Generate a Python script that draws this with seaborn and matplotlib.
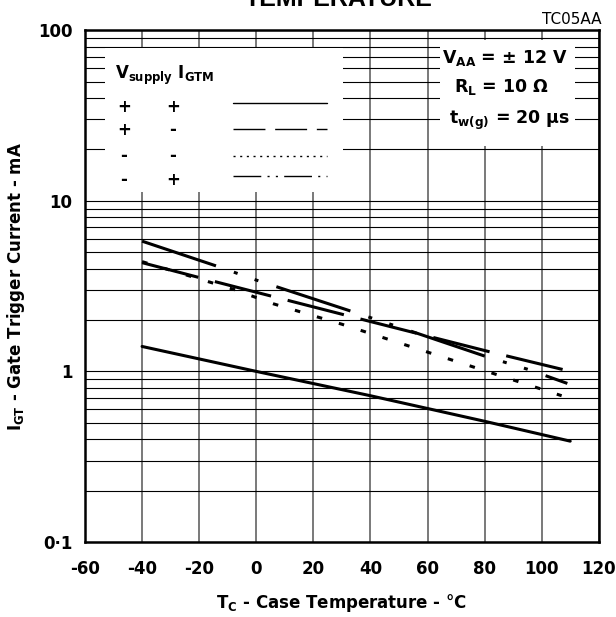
import pandas as pd
import seaborn as sns
import matplotlib.pyplot as plt
from matplotlib.patches import Rectangle
from matplotlib.lines import Line2D
from matplotlib.ticker import NullFormatter

# values
temp_pp = [-40, 0, 40, 80, 110]
igt_pp = [1.4, 1.0, 0.72, 0.51, 0.39]

temp_pm = [-40, -20, 5, 40, 82, 108]
igt_pm = [4.34, 3.55, 2.77, 1.96, 1.3, 1.02]

temp_mm = [-40, -8, 6, 30, 38, 107]
igt_mm = [4.4, 3.03, 2.49, 1.89, 1.71, 0.72]

temp_mp = [-40, -14, 0, 33, 47, 80, 95, 109]
igt_mp = [5.8, 4.15, 3.43, 2.26, 1.89, 1.23, 1.03, 0.85]

series_names = ['+ +', '+ -', '- -', '- +']
x_ticks = [-60, -40, -20, 0, 20, 40, 60, 80, 100, 120]
y_ticks = [0.1, 1, 10, 100]
y_tick_labels = ['0·1', '1', '10', '100']

df = pd.concat([
    pd.DataFrame({'temp': temp_pp, 'igt': igt_pp, 'series': '+ +'}),
    pd.DataFrame({'temp': temp_pm, 'igt': igt_pm, 'series': '+ -'}),
    pd.DataFrame({'temp': temp_mm, 'igt': igt_mm, 'series': '- -'}),
    pd.DataFrame({'temp': temp_mp, 'igt': igt_mp, 'series': '- +'}),
], ignore_index=True)

# dash patterns (in line widths)
curve_dashes = {
    '+ +': '',
    '+ -': (19, 5.6),
    '- -': (1.8, 5.7),
    '- +': (25.5, 6.2, 1.3, 5.9, 1.3, 6.2),
}
key_dashes = {
    '+ +': '-',
    '+ -': (0, (23, 7)),
    '- -': (0, (1.5, 3.3)),
    '- +': (0, (20, 4.5, 1.5, 4.5, 1.5, 4.5)),
}

sns.set_theme(style='white')
plt.rcParams['font.family'] = ['DejaVu Sans']
plt.rcParams['mathtext.fontset'] = 'dejavusans'
plt.rcParams['mathtext.default'] = 'bf'
plt.rcParams['text.color'] = 'black'
plt.rcParams['axes.labelcolor'] = 'black'
plt.rcParams['xtick.color'] = 'black'
plt.rcParams['ytick.color'] = 'black'

fig, ax = plt.subplots(figsize=(6.16, 6.17), dpi=100)
fig.subplots_adjust(left=0.138, right=0.972, bottom=0.1216, top=0.951)

sns.lineplot(data=df, x='temp', y='igt', style='series', style_order=series_names,
             dashes=curve_dashes, color='black', linewidth=2.2, estimator=None,
             sort=False, legend=False, ax=ax, zorder=4)

ax.set_yscale('log')
ax.set_xlim(-60, 120)
ax.set_ylim(0.1, 100)
ax.set_xticks(x_ticks)
ax.set_xticklabels([str(t) for t in x_ticks])
ax.set_yticks(y_ticks)
ax.set_yticklabels(y_tick_labels)
ax.yaxis.set_minor_formatter(NullFormatter())
ax.tick_params(which='both', length=0)
ax.tick_params(axis='x', pad=13, labelsize=12)
ax.tick_params(axis='y', pad=9, labelsize=12)
for lab in ax.get_xticklabels() + ax.get_yticklabels():
    lab.set_fontweight('bold')

ax.grid(True, which='both', axis='y', color='black', linewidth=0.8)
ax.grid(True, which='major', axis='x', color='#555555', linewidth=1.1)
for s in ax.spines.values():
    s.set_color('black')
    s.set_linewidth(1.8)
    s.set_zorder(5)

ax.set_xlabel(r'T$_{C}$ - Case Temperature - °C', fontsize=12, fontweight='bold', labelpad=10)
ax.set_ylabel(r'I$_{GT}$ - Gate Trigger Current - mA', fontsize=12, fontweight='bold', labelpad=8)

# white boxes over the grid
ax.add_patch(Rectangle((0.039, 0.684), 0.463, 0.281, transform=ax.transAxes,
                       facecolor='white', edgecolor='none', zorder=2))
ax.add_patch(Rectangle((0.691, 0.773), 0.262, 0.207, transform=ax.transAxes,
                       facecolor='white', edgecolor='none', zorder=2))

# legend block
ax.text(0.058, 0.912, r'V$_{supply}$ I$_{GTM}$', transform=ax.transAxes,
        fontsize=12, fontweight='bold', ha='left', va='center', zorder=3)
sign_rows = [('+', '+'), ('+', '-'), ('-', '-'), ('-', '+')]
row_y = [0.850, 0.805, 0.754, 0.707]
key_y = [0.857, 0.807, 0.754, 0.715]
for (s1, s2), yy, ky, name in zip(sign_rows, row_y, key_y, series_names):
    ax.text(0.076, yy, s1, transform=ax.transAxes, fontsize=12,
            fontweight='bold', ha='center', va='center', zorder=3)
    ax.text(0.171, yy, s2, transform=ax.transAxes, fontsize=12,
            fontweight='bold', ha='center', va='center', zorder=3)
    ax.add_line(Line2D([0.288, 0.471], [ky, ky], transform=ax.transAxes,
                       color='black', linewidth=1.0, linestyle=key_dashes[name], zorder=3))

# test conditions
ax.text(0.817, 0.945, r'V$_{AA}$ = ± 12 V', transform=ax.transAxes, fontsize=12.5,
        fontweight='bold', ha='center', va='center', zorder=3)
ax.text(0.811, 0.889, r'R$_{L}$ = 10 Ω', transform=ax.transAxes, fontsize=12.5,
        fontweight='bold', ha='center', va='center', zorder=3)
ax.text(0.827, 0.824, r't$_{w(g)}$ = 20 µs', transform=ax.transAxes, fontsize=12.5,
        fontweight='bold', ha='center', va='center', zorder=3)

fig.text(0.977, 1 - 19 / 617, 'TC05AA', ha='right', va='center', fontsize=11)
fig.text(0.55, 1 - 6 / 617, 'TEMPERATURE', ha='center', va='baseline',
         fontsize=18, fontweight='bold', family='Liberation Sans')

fig.savefig('out.png', dpi=100)
